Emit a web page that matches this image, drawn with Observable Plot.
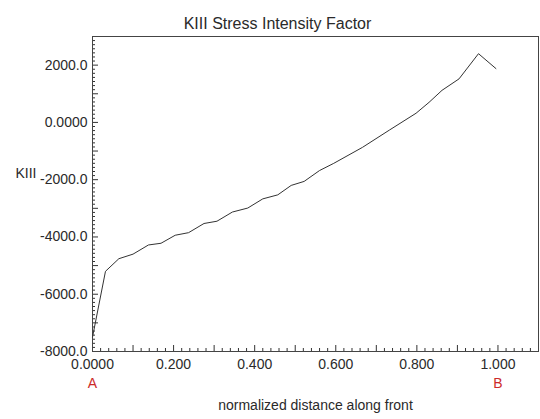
<!DOCTYPE html>
<html>
<head>
<meta charset="utf-8">
<script src="https://cdn.jsdelivr.net/npm/d3@7"></script>
<script src="https://cdn.jsdelivr.net/npm/@observablehq/plot@0.6"></script>
<style>
  html, body { margin: 0; padding: 0; background: #fff; }
</style>
</head>
<body>
<div id="chart"></div>
<script>
const titleText = "KIII Stress Intensity Factor";
const yLabelText = "KIII";
const xLabelText = "normalized distance along front";

const xs = [0, 0.032, 0.065, 0.1, 0.138, 0.169, 0.204, 0.237, 0.275, 0.307, 0.345, 0.383, 0.42, 0.457, 0.49, 0.522, 0.56, 0.595, 0.666, 0.732, 0.798, 0.83, 0.862, 0.904, 0.952, 0.995];
const ys = [-7500, -5200, -4760, -4600, -4280, -4220, -3940, -3850, -3530, -3450, -3130, -2990, -2670, -2530, -2200, -2060, -1680, -1430, -870, -270, 320, 700, 1120, 1520, 2400, 1880];

const xTickVals = [0, 0.2, 0.4, 0.6, 0.8, 1.0];
const xTickLabels = ["0.0000", "0.200", "0.400", "0.600", "0.800", "1.000"];
const yTickVals = [2000, 0, -2000, -4000, -6000, -8000];
const yTickLabels = ["2000.0", "0.0000", "-2000.0", "-4000.0", "-6000.0", "-8000.0"];

const endLabels = ["A", "B"];
const endLabelX = [0, 1];

const data = xs.map((x, i) => ({x, y: ys[i]}));
const ends = endLabels.map((t, i) => ({t, x: endLabelX[i]}));

const W = 540, H = 419, mL = 92, mR = 2, mT = 36, mB = 68;
const fw = W - mL - mR, fh = H - mT - mB;

const xMajor = d3.range(0, 11).map(i => i / 10);
const xMinor = d3.range(0, 56).map(i => i / 50).filter(v => Math.round(v * 50) % 5 !== 0);
const yMajor = d3.range(-8, 4).map(i => i * 1000);
const yMinor = d3.range(-8 * 7, 3 * 7 + 1).map(i => i * 1000 / 7).filter((v, i) => Math.round(v / (1000 / 7)) % 7 !== 0);

const chart = Plot.plot({
  width: W,
  height: H,
  marginLeft: mL,
  marginRight: mR,
  marginTop: mT,
  marginBottom: mB,
  style: {fontFamily: "'Liberation Sans', Arial, sans-serif", fontSize: "14px", color: "#2a2a2a", background: "#fff"},
  x: {domain: [0, 1.1]},
  y: {domain: [-8000, 3000]},
  marks: [
    Plot.tickX(xMajor, {x: d => d, insetTop: fh - 6, stroke: "#333"}),
    Plot.tickX(xMinor, {x: d => d, insetTop: fh - 3, stroke: "#333"}),
    Plot.tickY(yMajor, {y: d => d, insetRight: fw - 6, stroke: "#333"}),
    Plot.tickY(yMinor, {y: d => d, insetRight: fw - 3, stroke: "#333"}),
    Plot.frame({stroke: "#444"}),
    Plot.axisX({ticks: xTickVals, tickFormat: d => xTickLabels[xTickVals.indexOf(d)], tickSize: 0, tickPadding: 8, label: null, fontSize: 14}),
    Plot.axisY({ticks: yTickVals, tickFormat: d => yTickLabels[yTickVals.indexOf(d)], tickSize: 0, tickPadding: 5, label: null, fontSize: 14}),
    Plot.line(data, {x: "x", y: "y", stroke: "#333", strokeWidth: 1}),
    Plot.text([titleText], {frameAnchor: "top", dy: -19, dx: -38, fontSize: 16, fill: "#2a2a2a"}),
    Plot.text([yLabelText], {frameAnchor: "left", dx: -77, dy: -20, textAnchor: "start", fontSize: 14, fill: "#2a2a2a"}),
    Plot.text(ends, {x: "x", text: "t", frameAnchor: "bottom", dy: 36, fill: "#cc2a2a", fontSize: 14}),
    Plot.text([xLabelText], {frameAnchor: "bottom", dy: 58, fontSize: 14, fill: "#2a2a2a"})
  ]
});
document.getElementById("chart").appendChild(chart);
</script>
</body>
</html>
